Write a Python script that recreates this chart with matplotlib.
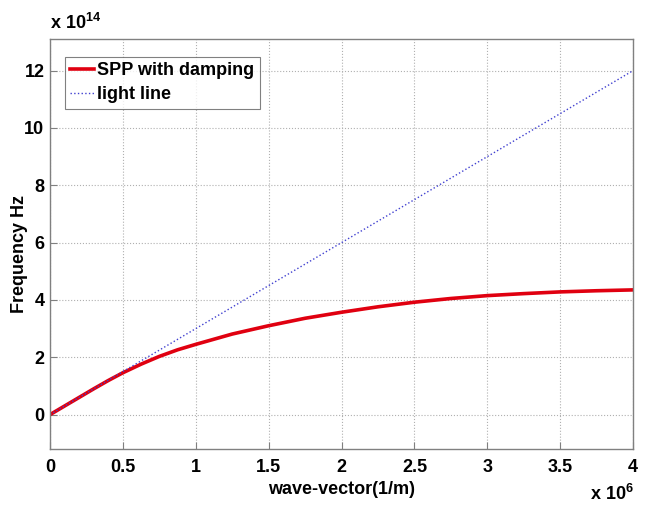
import numpy as np
import matplotlib
matplotlib.use('Agg')
from matplotlib import pyplot as plt

plt.rcParams['font.family'] = ['Liberation Sans', 'DejaVu Sans']
plt.rcParams['font.weight'] = 'bold'

# wave-vector in units of 1e6 1/m, frequency in units of 1e14 Hz
k_spp = [0, 0.1, 0.2, 0.3, 0.4, 0.5, 0.625, 0.75, 0.875, 1.0, 1.25, 1.5, 1.75, 2.0, 2.25, 2.5, 2.75, 3.0, 3.25, 3.5, 3.75, 4.0]
f_spp = [0, 0.30, 0.60, 0.90, 1.19, 1.46, 1.76, 2.03, 2.26, 2.45, 2.81, 3.10, 3.36, 3.57, 3.76, 3.92, 4.05, 4.15, 4.22, 4.28, 4.32, 4.35]
k_light = [0, 4.0]
f_light = [0, 12.0]

xticks = [0, 0.5, 1, 1.5, 2, 2.5, 3, 3.5, 4]
yticks = [0, 2, 4, 6, 8, 10, 12]

fig = plt.figure(figsize=(6.5, 5.14), dpi=100)
ax = fig.add_axes([0.077, 0.1265, 0.897, 0.7975])

ax.plot(k_spp, f_spp, color='#e00010', lw=2.6, label='SPP with damping')
ax.plot(k_light, f_light, color='#4040d0', lw=1.0, ls=':', label='light line')

ax.set_xlim(0, 4)
ax.set_ylim(-1.2, 13.1)
ax.set_xticks(xticks)
ax.set_xticklabels(['0', '0.5', '1', '1.5', '2', '2.5', '3', '3.5', '4'])
ax.set_yticks(yticks)
ax.tick_params(direction='in', length=5, color='#808080', labelsize=13)
ax.tick_params(axis='x', pad=7)
ax.tick_params(axis='y', pad=4)
for s in ax.spines.values():
    s.set_color('#808080')
    s.set_linewidth(1.0)
ax.grid(True, ls=':', color='#b0b0b0', lw=0.8)

ax.set_xlabel('wave-vector(1/m)', fontsize=13, fontweight='bold', labelpad=4)
fig.text(20 / 650, 0.505, 'Frequency Hz', fontsize=13, fontweight='bold',
         rotation=90, ha='center', va='center')

fig.text(0.077, 0.935, r'x 10$^{\mathregular{14}}$', fontsize=13, fontweight='bold', ha='left', va='bottom')
fig.text(0.975, 0.02, r'x 10$^{\mathregular{6}}$', fontsize=13, fontweight='bold', ha='right', va='bottom')

leg = ax.legend(loc='upper left', bbox_to_anchor=(0.025, 0.957), fontsize=13, frameon=True,
                fancybox=False, edgecolor='#606060', handlelength=1.3, handletextpad=0.2,
                borderpad=0.3, labelspacing=0.4, borderaxespad=0)
leg.get_frame().set_linewidth(0.8)

plt.savefig('out.png', dpi=100)
